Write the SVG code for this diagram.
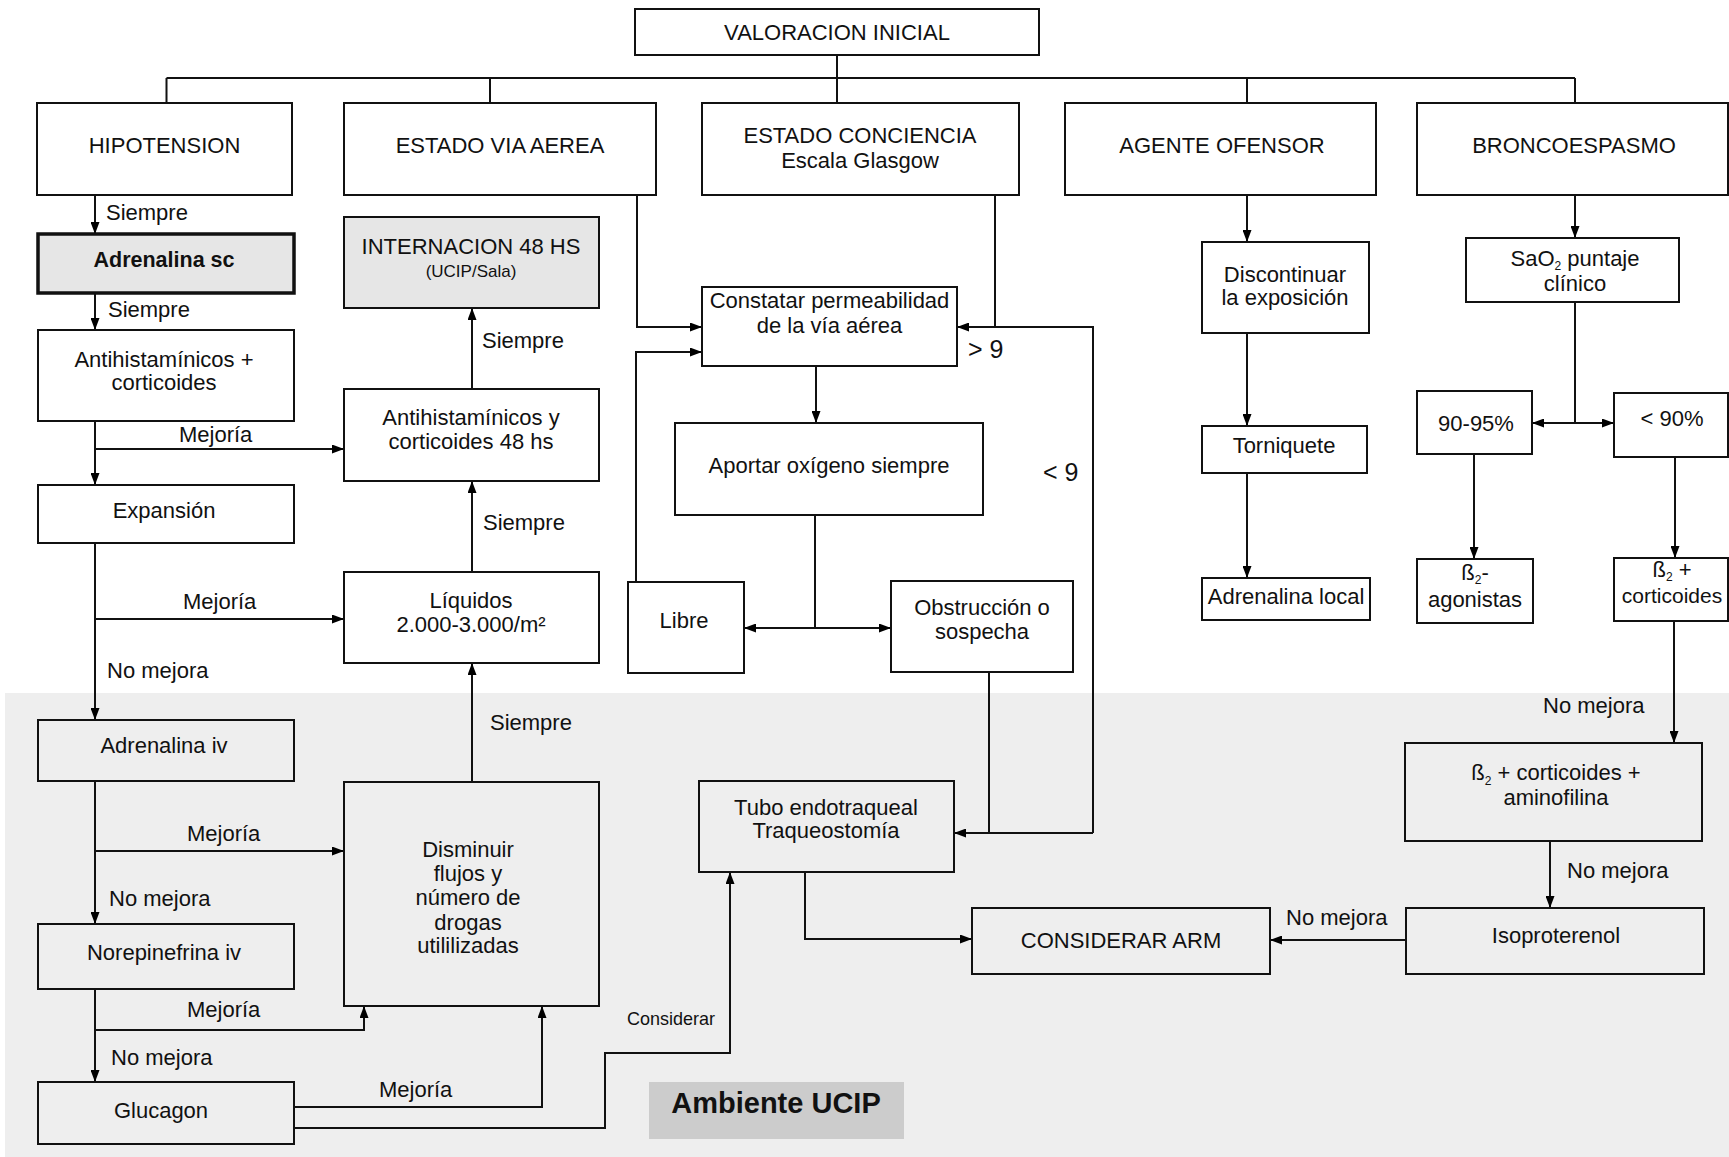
<svg xmlns="http://www.w3.org/2000/svg" width="1729" height="1157" viewBox="0 0 1729 1157">
<defs>
<marker id="ah" markerWidth="13" markerHeight="9" refX="12" refY="4.5" orient="auto" markerUnits="userSpaceOnUse">
<path d="M0,0 L12,4.5 L0,9 z" fill="#000"/>
</marker>
<style>
.bx{fill:none;stroke:#111;stroke-width:2}
.gb{fill:#e6e6e6;stroke:#111;stroke-width:2}
text{font-family:"Liberation Sans",Arial,Helvetica,sans-serif;font-size:22px;fill:#111}
.c{text-anchor:middle}
.cn path{fill:none;stroke:#111;stroke-width:2}
.cn .a{marker-end:url(#ah)}
.sub{font-size:12px}
</style>
</defs>
<rect width="1729" height="1157" fill="#fff"/>
<rect id="ucip-zone" x="5" y="693" width="1724" height="464" fill="#eeeeee"/>

<g class="cn" id="connectors">
<path d="M837 55 V78 M166.5 78 H1575 M166.5 78 V103 M490 78 V103 M837 78 V103 M1247 78 V103 M1575 78 V103"/>
<path class="a" d="M95 195 V234"/>
<path class="a" d="M95 293 V330"/>
<path class="a" d="M95 421 V485"/>
<path class="a" d="M95 449 H344"/>
<path class="a" d="M95 543 V720"/>
<path class="a" d="M95 619 H344"/>
<path class="a" d="M95 781 V924"/>
<path class="a" d="M95 851 H344"/>
<path class="a" d="M95 989 V1082"/>
<path class="a" d="M95 1030 H364 V1006"/>
<path class="a" d="M294 1107 H542 V1006"/>
<path class="a" d="M294 1128 H605 V1053 H730 V872"/>
<path class="a" d="M472 782 V663"/>
<path class="a" d="M472 572 V481"/>
<path class="a" d="M472 389 V308"/>
<path class="a" d="M637 195 V327 H702"/>
<path class="a" d="M636 582 V352 H702"/>
<path d="M995 195 V327"/>
<path class="a" d="M1093 833 V327 H957"/>
<path class="a" d="M1093 833 H954"/>
<path d="M989 672 V833"/>
<path class="a" d="M816 366 V423"/>
<path d="M815 515 V628"/>
<path class="a" d="M815 628 H744"/>
<path class="a" d="M815 628 H891"/>
<path class="a" d="M805 872 V939 H972"/>
<path class="a" d="M1406 940 H1270"/>
<path class="a" d="M1550 841 V908"/>
<path class="a" d="M1674 621 V743"/>
<path class="a" d="M1675 457 V558"/>
<path class="a" d="M1474 454 V559"/>
<path d="M1575 302 V423"/>
<path class="a" d="M1575 423 H1532"/>
<path class="a" d="M1575 423 H1614"/>
<path class="a" d="M1575 195 V238"/>
<path class="a" d="M1247 195 V242"/>
<path class="a" d="M1247 333 V426"/>
<path class="a" d="M1247 473 V578"/>
</g>

<g id="connector-labels">
<text x="106" y="220">Siempre</text>
<text x="108" y="317">Siempre</text>
<text x="179" y="442">Mejoría</text>
<text x="183" y="609">Mejoría</text>
<text x="107" y="678">No mejora</text>
<text x="187" y="841">Mejoría</text>
<text x="109" y="906">No mejora</text>
<text x="187" y="1017">Mejoría</text>
<text x="111" y="1065">No mejora</text>
<text x="379" y="1097">Mejoría</text>
<text x="627" y="1025" style="font-size:19px" textLength="88" lengthAdjust="spacingAndGlyphs">Considerar</text>
<text x="490" y="730">Siempre</text>
<text x="483" y="530">Siempre</text>
<text x="482" y="348">Siempre</text>
<text x="968" y="358" style="font-size:25px">&gt; 9</text>
<text x="1043" y="481" style="font-size:25px">&lt; 9</text>
<text x="1543" y="713">No mejora</text>
<text x="1567" y="878">No mejora</text>
<text x="1286" y="925">No mejora</text>
</g>

<g id="valoracion"><rect class="bx" x="635" y="9" width="404" height="46"/><text class="c" x="837" y="40">VALORACION INICIAL</text></g>
<g id="hipotension"><rect class="bx" x="37" y="103" width="255" height="92"/><text class="c" x="164.5" y="153">HIPOTENSION</text></g>
<g id="via-aerea"><rect class="bx" x="344" y="103" width="312" height="92"/><text class="c" x="500" y="153">ESTADO VIA AEREA</text></g>
<g id="conciencia"><rect class="bx" x="702" y="103" width="317" height="92"/><text class="c" x="860" y="143">ESTADO CONCIENCIA</text><text class="c" x="860" y="168">Escala Glasgow</text></g>
<g id="agente"><rect class="bx" x="1065" y="103" width="311" height="92"/><text class="c" x="1222" y="153">AGENTE OFENSOR</text></g>
<g id="bronco"><rect class="bx" x="1417" y="103" width="311" height="92"/><text class="c" x="1574" y="153">BRONCOESPASMO</text></g>

<g id="adrenalina-sc"><rect x="38" y="234" width="256" height="59" fill="#e6e6e6" stroke="#111" stroke-width="3.5"/><text class="c" x="164" y="267" style="font-weight:bold;font-size:21.5px">Adrenalina sc</text></g>
<g id="antihist1"><rect class="bx" x="38" y="330" width="256" height="91"/><text class="c" x="164" y="367">Antihistamínicos +</text><text class="c" x="164" y="390">corticoides</text></g>
<g id="expansion"><rect class="bx" x="38" y="485" width="256" height="58"/><text class="c" x="164" y="518">Expansión</text></g>
<g id="adrenalina-iv"><rect class="bx" x="38" y="720" width="256" height="61"/><text class="c" x="164" y="753">Adrenalina iv</text></g>
<g id="norepinefrina"><rect class="bx" x="38" y="924" width="256" height="65"/><text class="c" x="164" y="960">Norepinefrina iv</text></g>
<g id="glucagon"><rect class="bx" x="38" y="1082" width="256" height="62"/><text class="c" x="161" y="1118">Glucagon</text></g>

<g id="internacion"><rect class="gb" x="344" y="217" width="255" height="91"/><text class="c" x="471" y="254">INTERNACION 48 HS</text><text class="c" x="471" y="277" style="font-size:17px">(UCIP/Sala)</text></g>
<g id="antihist2"><rect class="bx" x="344" y="389" width="255" height="92"/><text class="c" x="471" y="425">Antihistamínicos y</text><text class="c" x="471" y="449">corticoides 48 hs</text></g>
<g id="liquidos"><rect class="bx" x="344" y="572" width="255" height="91"/><text class="c" x="471" y="608">Líquidos</text><text class="c" x="471" y="632">2.000-3.000/m²</text></g>
<g id="disminuir"><rect class="bx" x="344" y="782" width="255" height="224"/><text class="c" x="468" y="857">Disminuir</text><text class="c" x="468" y="881">flujos y</text><text class="c" x="468" y="905">número de</text><text class="c" x="468" y="930">drogas</text><text class="c" x="468" y="953">utililizadas</text></g>

<g id="constatar"><rect class="bx" x="702" y="287" width="255" height="79"/><text class="c" x="829.5" y="308">Constatar permeabilidad</text><text class="c" x="829.5" y="333">de la vía aérea</text></g>
<g id="aportar"><rect class="bx" x="675" y="423" width="308" height="92"/><text class="c" x="829" y="473">Aportar oxígeno siempre</text></g>
<g id="libre"><rect class="bx" x="628" y="582" width="116" height="91"/><text class="c" x="684" y="628">Libre</text></g>
<g id="obstruccion"><rect class="bx" x="891" y="581" width="182" height="91"/><text class="c" x="982" y="615">Obstrucción o</text><text class="c" x="982" y="639">sospecha</text></g>
<g id="tubo"><rect class="bx" x="699" y="781" width="255" height="91"/><text class="c" x="826" y="815">Tubo endotraqueal</text><text class="c" x="826" y="838">Traqueostomía</text></g>
<g id="considerar-arm"><rect class="bx" x="972" y="908" width="298" height="66"/><text class="c" x="1121" y="948">CONSIDERAR ARM</text></g>

<g id="discontinuar"><rect class="bx" x="1202" y="242" width="167" height="91"/><text class="c" x="1285" y="282">Discontinuar</text><text class="c" x="1285" y="305">la exposición</text></g>
<g id="torniquete"><rect class="bx" x="1202" y="426" width="165" height="47"/><text class="c" x="1284" y="453">Torniquete</text></g>
<g id="adrenalina-local"><rect class="bx" x="1202" y="578" width="168" height="42"/><text class="c" x="1286" y="604">Adrenalina local</text></g>

<g id="sao2"><rect class="bx" x="1466" y="238" width="213" height="64"/><text class="c" x="1575" y="266">SaO<tspan class="sub" dy="4">2</tspan><tspan dy="-4"> puntaje</tspan></text><text class="c" x="1575" y="291">clínico</text></g>
<g id="p90-95"><rect class="bx" x="1417" y="391" width="115" height="63"/><text class="c" x="1476" y="431">90-95%</text></g>
<g id="p90"><rect class="bx" x="1614" y="393" width="114" height="64"/><text class="c" x="1672" y="426">&lt; 90%</text></g>
<g id="b2-agonistas"><rect class="bx" x="1417" y="559" width="116" height="64"/><text class="c" x="1475" y="580">ß<tspan class="sub" dy="4">2</tspan><tspan dy="-4">-</tspan></text><text class="c" x="1475" y="607">agonistas</text></g>
<g id="b2-corticoides"><rect class="bx" x="1614" y="558" width="114" height="63"/><text class="c" x="1672" y="577">ß<tspan class="sub" dy="4">2</tspan><tspan dy="-4"> +</tspan></text><text class="c" x="1672" y="603" style="font-size:21px">corticoides</text></g>
<g id="b2-aminofilina"><rect class="bx" x="1405" y="743" width="297" height="98"/><text class="c" x="1556" y="780">ß<tspan class="sub" dy="5">2</tspan><tspan dy="-5"> + corticoides +</tspan></text><text class="c" x="1556" y="805">aminofilina</text></g>
<g id="isoproterenol"><rect class="bx" x="1406" y="908" width="298" height="66"/><text class="c" x="1556" y="943">Isoproterenol</text></g>

<g id="ambiente-ucip"><rect x="649" y="1082" width="255" height="57" fill="#cccccc"/><text class="c" x="776" y="1113" style="font-weight:bold;font-size:29px">Ambiente UCIP</text></g>
</svg>
